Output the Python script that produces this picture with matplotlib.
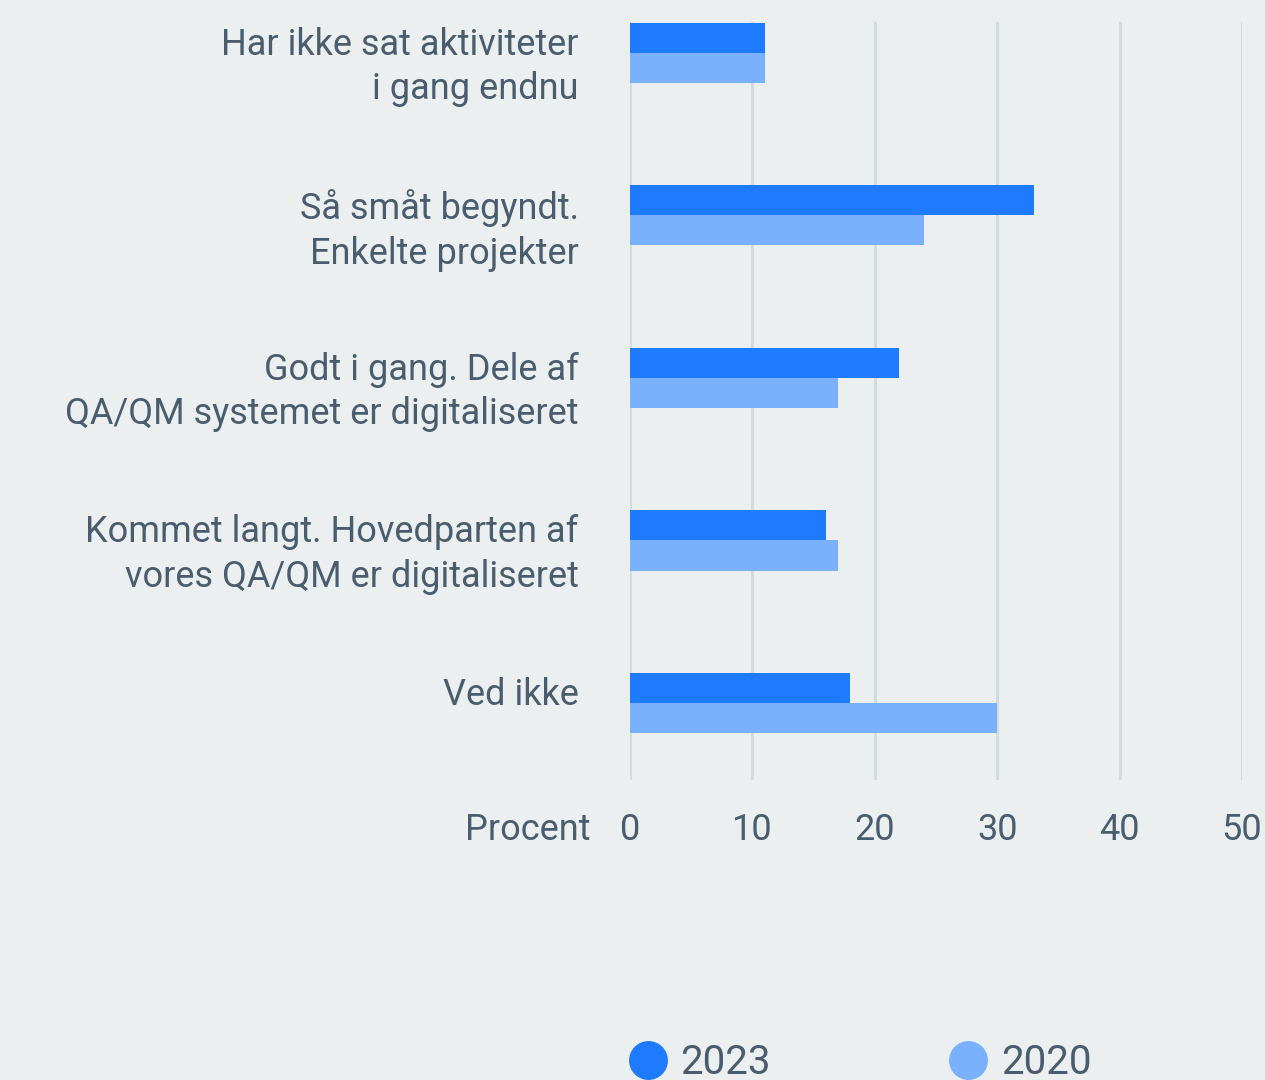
import numpy as np
import matplotlib
matplotlib.use("Agg")
import matplotlib.pyplot as plt
from matplotlib.lines import Line2D

# data
categories = [
    "Har ikke sat aktiviteter\ni gang endnu",
    "Så småt begyndt.\nEnkelte projekter",
    "Godt i gang. Dele af\nQA/QM systemet er digitaliseret",
    "Kommet langt. Hovedparten af\nvores QA/QM er digitaliseret",
    "Ved ikke",
]
values_2023 = [11, 33, 22, 16, 18]
values_2020 = [11, 24, 17, 17, 30]
series_names = ["2023", "2020"]
xticks = [0, 10, 20, 30, 40, 50]

bg = "#ebeff0"
text_color = "#4a5d6e"
grid_color = "#d3dcdd"
color_2023 = "#1f7bfd"
color_2020 = "#79b1fd"

plt.rcParams["font.family"] = ["Roboto", "DejaVu Sans"]

fig = plt.figure(figsize=(12.65, 10.8), dpi=100, facecolor=bg)
ax = fig.add_axes([630 / 1265, 1 - 780 / 1080, 612 / 1265, 758 / 1080])
ax.set_facecolor(bg)

y = np.arange(len(categories))
h = 0.185
ax.barh(y - h / 2, values_2023, height=h, color=color_2023, zorder=3)
ax.barh(y + h / 2, values_2020, height=h, color=color_2020, zorder=3)

ax.set_xlim(0, 50)
ax.set_ylim(4.474, -0.19)
ax.set_xticks(xticks)
ax.set_xticklabels([str(t) for t in xticks])
ax.tick_params(axis="x", length=0, pad=23, labelsize=26, labelcolor=text_color)
ax.set_yticks([])
for t in xticks:
    ax.axvline(t, color=grid_color, lw=2.2, zorder=1)
for s in ax.spines.values():
    s.set_visible(False)

# category labels, top-aligned with the bars
for i, lab in enumerate(categories):
    ax.text(-4.2, i - h + 0.025, lab, ha="right", va="top", fontsize=26,
            color=text_color, linespacing=1.29)

# axis title on the same row as the tick labels
ax.text(-3.25, -0.066, "Procent", ha="right", va="center", fontsize=26,
        color=text_color, transform=ax.get_xaxis_transform())

handles = [Line2D([], [], marker="o", ls="", markersize=27, color=c)
           for c in (color_2023, color_2020)]
fig.legend(handles, series_names, loc="center left",
           bbox_to_anchor=(592 / 1265, 1 - 1063 / 1080), ncol=2, frameon=False,
           fontsize=29, labelcolor=text_color, handletextpad=0.3,
           columnspacing=4.4, handlelength=1.0)

fig.savefig("out.png", dpi=100, facecolor=bg)
